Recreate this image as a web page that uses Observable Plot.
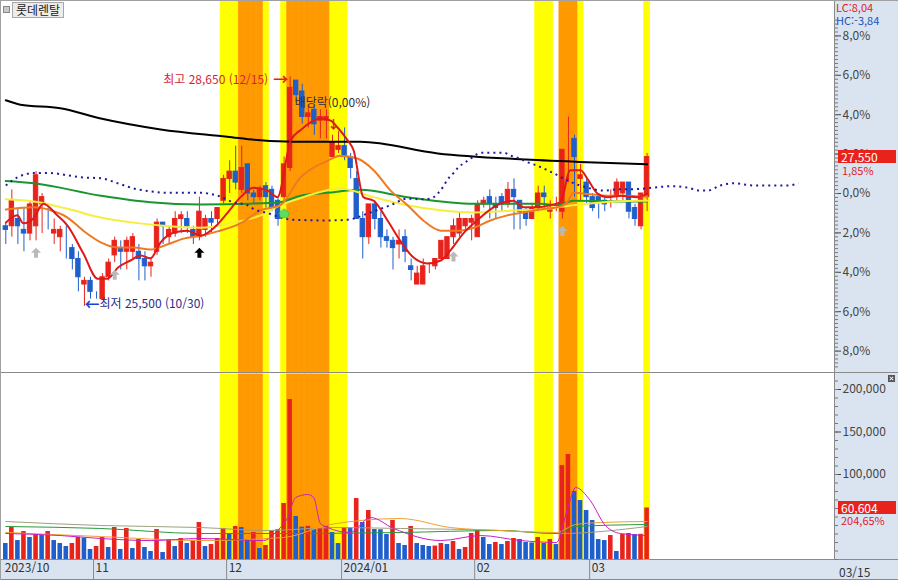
<!DOCTYPE html>
<html lang="ko"><head><meta charset="utf-8">
<script src="https://cdn.jsdelivr.net/npm/d3@7"></script>
<script src="https://cdn.jsdelivr.net/npm/@observablehq/plot@0.6"></script>
<style>
html,body{margin:0;padding:0;background:#fff;}
#wrap{position:relative;width:898px;height:580px;overflow:hidden;background:#fff;font-family:"Noto Sans CJK KR","Noto Sans",sans-serif;font-size:12px;}
#wrap > div{position:absolute;}
#panel{left:834px;top:0;width:64px;height:580px;background:#dae4f1;border-left:1px solid #8a8a8a;box-sizing:border-box;}
#daterow{left:0;top:559px;width:898px;height:21px;background:#dae4f1;border-top:1px solid #8a8a8a;border-bottom:1px solid #8a8a8a;box-sizing:border-box;}
#divider{left:0;top:372px;width:898px;height:2px;border-top:1px solid #8a8a8a;box-sizing:border-box;}
#topline{left:0;top:0;width:898px;height:1px;background:#a0a0a0;}
#leftline{left:0;top:0;width:1px;height:580px;background:#a0a0a0;}
#price{left:0;top:0;}
#vol{left:0;top:374px;}
#title{left:12px;top:2px;height:14px;line-height:14px;padding:0 3px;background:#ececec;border:1px solid #a8a8a8;color:#222;font-size:12px;}
#icon{left:3px;top:6px;width:5px;height:5px;background:#c8c8c8;border:1px solid #888;}
.tag{background:#e8231c;color:#fff;height:13px;line-height:13px;width:58px;padding-left:3px;box-sizing:border-box;font-size:12px;}
.red{color:#e0202a;font-size:11px;line-height:11px;}
.blue{color:#2050c0;font-size:11px;line-height:11px;}
#close{left:888px;top:375px;width:7px;height:7px;background:#555;}
#close::before,#close::after{content:"";position:absolute;left:1px;top:3px;width:5px;height:1px;background:#fff;transform:rotate(45deg);}
#close::after{transform:rotate(-45deg);}
svg{display:block;}
</style></head>
<body><div id="wrap">
<div id="panel"></div>
<div id="daterow"></div>
<div id="price"></div>
<div id="vol"></div>
<div id="divider"></div>
<div id="topline"></div>
<div id="leftline"></div>
<div id="icon"></div>
<div id="title">롯데렌탈</div>
<div id="close"></div>
</div>
<script>
// ---------- trading days ----------
const octDays=[11,12,13,16,17,18,19,20,23,24,25,26,27,30,31];
const novDays=[1,2,3,6,7,8,9,10,13,14,15,16,17,20,21,22,23,24,27,28,29,30];
const decDays=[1,4,5,6,7,8,11,12,13,14,15,18,19,20,21,22,26,27,28];
const janDays=[2,3,4,5,8,9,10,11,12,15,16,17,18,19,22,23,24,25,26,29,30,31];
const febDays=[1,2,5,6,7,8,13,14,15,16,19,20,21,22,23,26,27,28,29];
const marDays=[4,5,6,7,8,11,12,13,14,15];
const pad=d=>String(d).padStart(2,"0");
const dates=[
  ...octDays.map(d=>`2023-10-${pad(d)}`),...novDays.map(d=>`2023-11-${pad(d)}`),
  ...decDays.map(d=>`2023-12-${pad(d)}`),...janDays.map(d=>`2024-01-${pad(d)}`),
  ...febDays.map(d=>`2024-02-${pad(d)}`),...marDays.map(d=>`2024-03-${pad(d)}`)];

// ---------- OHLC (KRW) ----------
const open=[26600,26600,26700,26550,26500,26600,26900,26800,26500,26450,26500,26300,26150,25800,25850,25650,25600,25900,26200,26300,26250,26250,26250,26150,26050,26250,26650,26450,26500,26700,26700,26550,26450,26550,26700,26700,26950,27250,27350,27100,27450,27050,27000,27150,27100,26950,27000,27400,28600,28450,28100,28200,28050,28050,27550,27650,27700,27550,27250,26700,26450,26900,26700,26450,26400,26350,26450,26050,25800,25800,26050,26050,26150,26150,26450,26500,26600,26650,26450,26900,27000,26900,27000,26900,27100,26950,26800,26700,26850,27050,26800,26900,26800,27800,27800,27250,27200,27000,27000,26950,27000,27000,27050,27200,26850,26600,27000];
const high=[26650,27100,26850,26850,26950,27350,27050,26850,26700,26600,26600,26350,26250,25900,25900,25700,25950,26150,26450,26400,26450,26500,26350,26250,26150,26700,26650,26600,26800,26800,26800,26600,27000,26750,26800,26850,27300,27500,27700,27700,27450,27100,27150,27200,27150,27000,27550,28650,28600,28550,28250,28250,28200,28200,27850,27900,27950,27600,27350,26800,26900,26950,26800,26550,26450,26550,26550,26150,26050,26150,26100,26150,26400,26450,26700,26800,26700,26750,26950,27000,27100,27000,27050,27200,27250,26950,26850,26900,27150,27150,26950,27000,27650,28100,27850,27450,27250,27050,27050,27000,27100,27250,27200,27200,26900,27050,27600];
const low=[26350,26450,26350,26250,26400,26400,26500,26550,26350,26250,26150,26000,25700,25500,25600,25600,25600,25850,26100,26000,26000,26150,25850,25850,25900,26200,26350,26350,26450,26500,26500,26350,26400,26450,26500,26600,26900,27050,27100,27050,26950,26900,26950,26850,26800,26600,26950,27350,28300,28000,27950,27850,27800,27800,27550,27600,27500,27250,26700,26150,26350,26550,26300,26300,26000,26150,26100,25850,25800,25800,25950,26000,26150,26150,26350,26450,26550,26400,26450,26850,26700,26700,26800,26850,26550,26550,26600,26700,26800,26850,26700,26800,26700,27200,27000,26950,26900,26800,26700,26800,26850,26950,26950,26700,26600,26550,26800];
const close=[26550,26950,26600,26500,26900,27300,27000,26800,26550,26550,26500,26150,25900,25850,25700,25650,25900,26100,26400,26250,26400,26450,26150,26050,26100,26650,26600,26550,26700,26750,26600,26450,26800,26700,26650,26850,27250,27350,27200,27400,27050,27000,27100,27000,26850,26700,27450,28500,28400,28100,28150,28000,28100,28100,27750,27700,27550,27400,26700,26450,26900,26700,26450,26400,26300,26400,26250,26000,25950,26050,26050,26150,26400,26450,26600,26700,26700,26700,26900,26950,26900,26850,26900,27100,27000,26800,26700,26850,27050,27000,26850,26900,27650,27800,27550,27300,27000,26850,26950,26900,27000,27200,27200,26800,26700,27050,27550];
const volume=[18800,37600,22300,32900,25900,29400,28200,32900,22300,18800,15300,18800,25900,25000,11800,15300,25900,14100,37600,11800,36500,12900,23500,14100,9400,35300,8200,23500,15300,24700,18800,22300,43500,15300,17600,24700,36500,30600,38800,37600,22300,31800,12900,16500,34100,35000,65900,188200,50600,38000,39000,35300,36500,40000,31800,18800,37600,37000,71700,43500,57600,35300,35000,29400,45900,18800,16500,38800,18800,16500,15300,15800,18800,17600,21200,11800,14100,30600,34100,25900,17600,20000,17600,21200,24700,23500,20000,19500,25900,18800,23500,17600,110500,123500,80000,69400,57600,45900,23500,22300,28200,9400,29400,30600,29400,29614,60604];

// ---------- highlighted days ----------
const yellowDates=["2023-11-30","2023-12-01","2023-12-04","2023-12-11","2023-12-14","2023-12-27","2023-12-28","2024-01-02","2024-02-19","2024-02-20","2024-02-21","2024-02-28","2024-03-15"];
const orangeDates=["2023-12-05","2023-12-06","2023-12-07","2023-12-08","2023-12-15","2023-12-18","2023-12-19","2023-12-20","2023-12-21","2023-12-22","2023-12-26","2024-02-23","2024-02-26","2024-02-27"];

// ---------- signals ----------
const greySignalDates=["2023-10-18","2023-11-06","2024-01-26","2024-02-23"];
const blackSignalDates=["2023-11-24"];
const greenSignalDates=["2023-12-14"];
const highDate="2023-12-15", lowDate="2023-10-30", exDivDate="2023-12-27";

// ---------- moving averages [trading-day index, value] ----------
const maBlack=[[0,28330],[2.4,28270],[9,28220],[15.7,28080],[25.6,27930],[36.6,27830],[42.1,27780],[47.5,27760],[58.6,27760],[71.4,27600],[85.1,27520],[96.1,27480],[106,27450]];
const maGreen=[[0,27220],[4.6,27190],[15.7,27020],[23.9,26930],[32.2,26900],[40.4,26910],[45.4,26930],[48.7,27020],[53.2,27060],[58.6,27100],[66.4,27000],[77.3,26910],[88.4,26910],[91.2,26890],[93.8,26950],[104.9,26940],[106,26940]];
const maYellow=[[0,26970],[4.6,26940],[10.2,26840],[15.7,26720],[21.1,26650],[25.6,26610],[32.2,26580],[37.6,26650],[42.1,26750],[45.4,26890],[49.2,27000],[55.3,27120],[60.8,27000],[66.4,26890],[71.9,26820],[77.3,26790],[84.6,26820],[88.4,26830],[93.8,26890],[104.9,26950],[106,26950]];
const maOrange=[[0,26830],[4.6,26860],[7.4,26820],[10.2,26720],[12.8,26540],[15.7,26380],[18.5,26310],[21.1,26310],[23.9,26280],[26.7,26350],[29.4,26430],[32.2,26470],[35,26530],[38.8,26640],[42.1,26820],[45.4,26890],[48.7,27270],[53.2,27500],[55.3,27570],[58.1,27530],[60.8,27370],[63.6,27090],[66.4,26890],[69,26680],[71.9,26540],[74.7,26540],[77.3,26580],[80.1,26680],[82.9,26750],[85.6,26790],[88.4,26830],[91.2,26860],[92.8,26930],[93.8,27060],[96.6,27040],[99.4,27020],[102.1,27020],[104.9,27010],[106,27010]];
const maRed=[[0,26650],[1.9,26750],[2.9,26640],[4.6,26710],[6.2,26910],[8.5,26750],[10.2,26610],[12.8,26230],[15.2,25880],[16.8,25880],[18.5,26030],[20.6,26130],[22.3,26200],[23.9,26160],[25.6,26380],[27.7,26510],[30,26540],[32.2,26470],[34.3,26570],[36.6,26780],[38.8,27000],[40.9,27130],[43.3,27090],[44.9,27000],[47.1,27780],[48.7,27920],[52,28080],[53.7,28050],[54.8,27960],[56.5,27780],[57.5,27640],[59.1,27000],[60.8,26950],[63.1,26680],[65.2,26400],[67.4,26170],[69.7,26090],[71.9,26130],[73.5,26270],[75.6,26500],[77.9,26680],[80.6,26860],[83.9,26950],[85.6,26860],[87.9,26860],[90,26890],[91.7,26930],[93.3,27370],[95,27370],[96.3,27230],[97.8,27050],[99.4,27000],[101.6,27020],[104.4,27000],[106,27050]];
const leadSpan=[[0,27160],[1.9,27270],[4.6,27330],[7.4,27330],[10.2,27300],[12.8,27270],[15.7,27260],[18.5,27190],[21.1,27120],[23.9,27080],[26.7,27060],[32.2,27060],[35,27020],[37.6,26930],[39.9,26890],[40.9,26840],[43.3,26780],[45.4,26720],[47.5,26690],[53.2,26680],[56.5,26690],[60.3,26790],[63.6,26890],[66.4,26980],[68.5,26970],[70.2,26980],[71.4,27050],[72.2,27130],[73,27240],[74,27330],[74.8,27410],[76,27480],[77,27540],[77.9,27590],[78.9,27610],[80.1,27610],[81.3,27610],[82.3,27610],[83.4,27570],[84.6,27540],[86.2,27480],[87.9,27430],[89.5,27370],[90.5,27330],[92.8,27230],[96.1,27130],[98.8,27090],[101.6,27110],[103.8,27110],[107,27130],[109.9,27150],[112.7,27130],[114.8,27090],[116,27090],[118.1,27160],[120.3,27190],[123.6,27160],[126.4,27160],[129.2,27160],[131,27190]];
// volume averages
const volMagenta=[[0,30600],[9,28200],[15.7,24700],[23.9,22300],[32.2,24700],[42.6,22300],[44.9,34100],[46.6,49400],[47.9,72900],[49.9,76400],[50.9,72900],[52,42300],[53.2,37600],[56.9,31800],[60.3,49400],[64.1,36500],[71.9,22300],[78.5,28200],[85.1,22300],[91,20000],[93,63500],[94.2,84700],[96.6,69400],[99.1,40000],[101.6,30600],[106,28200]];
const volOrange=[[0,31800],[15.7,27000],[32.2,22300],[45.9,25900],[53.7,41200],[65.2,48200],[73.5,37600],[81.8,34100],[91,31800],[94.2,41200],[98.3,43500],[106,44700]];
const volGreen=[[0,38800],[15.7,36500],[32.2,30600],[48.7,30600],[65.2,31800],[81.8,34100],[91,30600],[94.2,38800],[106,41200]];
const volGrey=[[0,44700],[15.7,40000],[32.2,37600],[43.3,34100],[54.2,37600],[65.2,36500],[81.8,34100],[91.7,30600],[106,38800]];

// ---------- axis ticks ----------
const pctTicks=[8,6,4,2,0,-2,-4,-6,-8];
const volTicks=[100000,150000,200000];
const lcText="LC:8,04", hcText="HC:-3,84";

// ---------- build ----------
const RED="#e8231c", BLUE="#1f5fcc";
const days=dates.map((d,i)=>({t:i,date:d,o:open[i],h:high[i],l:low[i],c:close[i],v:volume[i]}));
days.forEach((d,i)=>{
  d.col = d.c>d.o?RED:d.c<d.o?BLUE:(i>0&&d.c<days[i-1].c?BLUE:RED);
  d.vcol = i===0?BLUE:(d.v>days[i-1].v?RED:BLUE);
});
const idx=d=>dates.indexOf(d);
const base=close[close.length-2];           // previous close = 0%
const xDomain=[-5.3/6.05,(834-5.3)/6.05];
const yDomain=[base*(1-180/1970),base*(1+193/1970)];
const comma=v=>String(v).replace(".",",");
const fmtPct=v=>comma(Math.abs(Math.round((v/base-1)*1000)/10).toFixed(1))+"%";
const font='"Noto Sans CJK KR","Noto Sans",sans-serif';
const bands=[
  Plot.rect(yellowDates.map(idx),{x1:t=>t-0.5,x2:t=>t+0.5,fill:"#ffff00",stroke:"#ffff00",strokeWidth:0.6}),
  Plot.rect(orangeDates.map(idx),{x1:t=>t-0.5,x2:t=>t+0.5,fill:"#ff9900",stroke:"#ff9900",strokeWidth:0.6})
];
const upArrow={draw(c){c.moveTo(0,-5);c.lineTo(5,0);c.lineTo(2,0);c.lineTo(2,5);c.lineTo(-2,5);c.lineTo(-2,0);c.lineTo(-5,0);c.closePath();}};
const house={draw(c){c.moveTo(0,-5);c.lineTo(5,-1);c.lineTo(3.5,4);c.lineTo(-3.5,4);c.lineTo(-5,-1);c.closePath();}};
const P=()=>({x:d=>d[0],y:d=>d[1]});
const hi=days[idx(highDate)], lo=days[idx(lowDate)], ex=days[idx(exDivDate)];
const md=s=>s.slice(5).replace("-","/");

const priceChart=Plot.plot({
  width:898,height:373,marginLeft:0,marginRight:64,marginTop:0,marginBottom:0,
  x:{domain:xDomain,axis:null,label:null},
  y:{domain:yDomain,axis:null,label:null},
  style:{background:"transparent",fontFamily:font,fontSize:"12px",overflow:"visible"},
  marks:[
    ...bands,
    Plot.ruleX(days,{x:"t",y1:"l",y2:"h",stroke:"col",strokeWidth:1}),
    Plot.rect(days,{x1:d=>d.t-0.36,x2:d=>d.t+0.36,y1:"o",y2:"c",fill:"col",stroke:"col",strokeWidth:1}),
    Plot.line(maBlack,{...P(),stroke:"#000",strokeWidth:2,curve:"monotone-x"}),
    Plot.line(maGreen,{...P(),stroke:"#1a9630",strokeWidth:2,curve:"monotone-x"}),
    Plot.line(maYellow,{...P(),stroke:"#f6ee3c",strokeWidth:2,curve:"monotone-x"}),
    Plot.line(maOrange,{...P(),stroke:"#f07a22",strokeWidth:2,curve:"monotone-x"}),
    Plot.line(maRed,{...P(),stroke:"#e01818",strokeWidth:2,curve:"monotone-x"}),
    Plot.line(leadSpan,{...P(),stroke:"#1c1c9c",strokeWidth:2,strokeDasharray:"2,4.05",strokeLinecap:"butt",curve:"monotone-x"}),
    Plot.dot(greySignalDates.map(d=>days[idx(d)]),{x:"t",y:"l",dy:12,symbol:upArrow,fill:"#b9b9b9",stroke:"none"}),
    Plot.dot(blackSignalDates.map(d=>days[idx(d)]),{x:"t",y:"l",dy:12,symbol:upArrow,fill:"#000",stroke:"none"}),
    Plot.dot(greenSignalDates.map(d=>days[idx(d)]),{x:"t",y:"l",dy:13,symbol:house,fill:"#5be05b",stroke:"#2fb02f",strokeWidth:0.5}),
    Plot.text([hi],{x:"t",y:"h",text:d=>`최고 ${d3.format(",")(d.h)} (${md(d.date)})`,textAnchor:"end",dx:-22,dy:3,fill:"#d81e3a"}),
    Plot.text([hi],{x:"t",y:"h",text:()=>"→",textAnchor:"end",dx:-2,dy:3,fill:"#e81c1c",fontSize:15,fontWeight:"bold"}),
    Plot.text([lo],{x:"t",y:"l",text:()=>"←",textAnchor:"start",dx:0,dy:-1,fill:"#1f3fd8",fontSize:15,fontWeight:"bold"}),
    Plot.text([lo],{x:"t",y:"l",text:d=>`최저 ${d3.format(",")(d.l)} (${md(d.date)})`,textAnchor:"start",dx:15,dy:-2,fill:"#2b2b8c"}),
    Plot.text([ex],{x:"t",y:"h",text:()=>"배당락(0,00%)",dy:-32,fill:"#333"}),
    Plot.text([ex],{x:"t",y:"h",text:()=>"↓",dy:-10,dx:1,fill:"#e01818",fontSize:12,fontWeight:"bold"}),
    Plot.axisY(pctTicks.map(p=>base*(1+p/100)),{anchor:"right",label:null,tickSize:6,tickPadding:2,tickFormat:fmtPct,color:"#444",fontSize:12}),
    Plot.axisY(d3.range(-44,45).map(k=>base*(1+k*0.2/100)),{anchor:"right",label:null,tickSize:3,tickFormat:()=>"",color:"#777"})
  ]
});
document.getElementById("price").appendChild(priceChart);

// month separators / labels
const monthStart=days.filter((d,i)=>i===0||d.date.slice(0,7)!==days[i-1].date.slice(0,7));
const sepT=monthStart.slice(1).map(d=>d.t-0.5);
const labT=monthStart.map(d=>d.t-0.5);
const monthLabel=(d,i)=>{const s=monthStart[i].date; return (i===0||s.slice(5,7)==="01")?s.slice(0,7).replace("-","/"):s.slice(5,7);};

const volChart=Plot.plot({
  width:898,height:206,marginLeft:0,marginRight:64,marginTop:0,marginBottom:21,
  x:{domain:xDomain,axis:null,label:null},
  y:{domain:[0,185/42.5*50000],axis:null,label:null},
  style:{background:"transparent",fontFamily:font,fontSize:"12px",overflow:"visible"},
  marks:[
    ...bands,
    Plot.rect(days,{x1:d=>d.t-0.38,x2:d=>d.t+0.38,y1:0,y2:"v",fill:"vcol"}),
    Plot.line(volGrey,{...P(),stroke:"#a0a080",strokeWidth:1,curve:"monotone-x"}),
    Plot.line(volGreen,{...P(),stroke:"#2a9a3a",strokeWidth:1,curve:"monotone-x"}),
    Plot.line(volOrange,{...P(),stroke:"#f0a030",strokeWidth:1,curve:"monotone-x"}),
    Plot.line(volMagenta,{...P(),stroke:"#c81ec8",strokeWidth:1,curve:"monotone-x"}),
    Plot.axisY(volTicks,{anchor:"right",label:null,tickSize:6,tickPadding:2,tickFormat:d3.format(","),color:"#444",fontSize:12}),
    Plot.axisY(d3.range(0,211000,10000),{anchor:"right",label:null,tickSize:3,tickFormat:()=>"",color:"#777"}),
    Plot.axisX(sepT,{anchor:"bottom",label:null,tickSize:21,tickFormat:()=>"",color:"#8a8a8a"}),
    Plot.axisX(labT,{anchor:"bottom",label:null,tickSize:0,tickPadding:4,textAnchor:"start",dx:2,tickFormat:monthLabel,color:"#333",fontSize:12})
  ]
});
document.getElementById("vol").appendChild(volChart);

// ---------- right-side html labels ----------
const wrap=document.getElementById("wrap");
function add(cls,text,left,top){const e=document.createElement("div");e.className=cls;e.textContent=text;e.style.left=left+"px";e.style.top=top+"px";wrap.appendChild(e);return e;}
const last=days[days.length-1], prev=days[days.length-2];
add("red",lcText,836,2);
add("blue",hcText,836,15);
const yc=priceChart.scale("y").apply(last.c);
add("tag",d3.format(",")(last.c),838,Math.round(yc-6.5));
add("red",comma(((last.c/prev.c-1)*100).toFixed(2))+"%",842,Math.round(yc+8));
const yv=374+volChart.scale("y").apply(last.v);
add("tag",d3.format(",")(last.v),838,Math.round(yv-6.5));
add("red",comma((last.v/prev.v*100).toFixed(2))+"%",841,Math.round(yv+8));
add("",md(last.date),839,563).style.color="#333";
</script>
</body></html>
